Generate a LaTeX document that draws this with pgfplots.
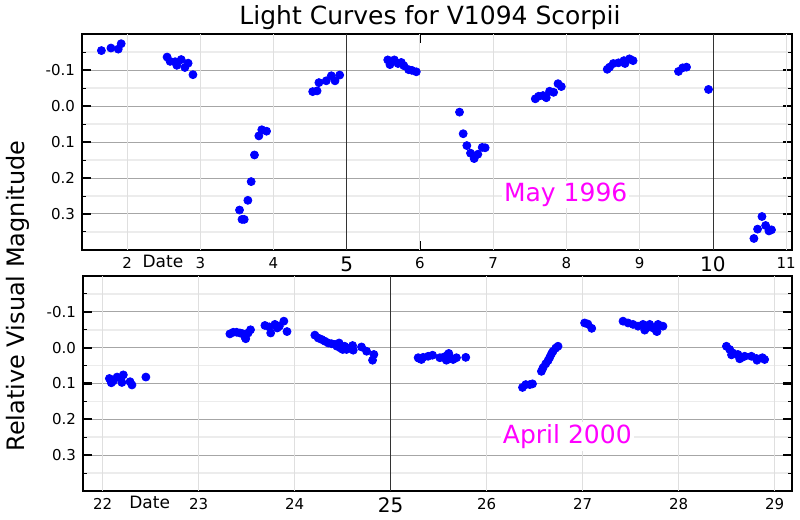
\documentclass[border=0pt]{standalone}
\usepackage{fontspec}
\setmainfont{DejaVu Sans}
\usepackage{pgfplots}
\pgfplotsset{compat=1.18}
\definecolor{ptblue}{RGB}{0,0,255}
\definecolor{anno}{RGB}{255,0,255}
\pgfplotsset{
 lcbase/.style={
  scale only axis, width=355pt, height=108pt,
  y dir=reverse, ymin=-0.2, ymax=0.4,
  ytick={-0.1,0,0.1,0.2,0.3}, yticklabels={-0.1,0.0,0.1,0.2,0.3},
  minor ytick={-0.15,-0.05,0.05,0.15,0.25,0.35},
  ymajorgrids=true, yminorgrids=true, xmajorgrids=false,
  major grid style={gray!70, line width=0.5pt},
  minor grid style={gray!15, line width=0.8pt},
  tick align=inside,
  axis line style={line width=1pt},
  major tick length=4.5pt, minor tick length=2.2pt,
  every major tick/.append style={line width=1.1pt, black},
  every minor tick/.append style={line width=0.5pt, black},
  xtick style={line width=0.4pt},
  tick label style={font=\fontsize{7.5}{8}\selectfont},
  /pgf/number format/assume math mode=true,
  extra x tick style={tick style={line width=1.6pt}, major tick length=6pt,
     tick label style={font=\fontsize{10}{11}\selectfont}},
  clip=false,
 },
 pts/.style={only marks, mark=*, mark size=2pt, ptblue, mark options={draw=ptblue, fill=ptblue}},
}
\begin{document}
\begin{tikzpicture}
\useasboundingbox (0,0) rectangle (400pt,260pt);
\node[font=\fontsize{12.5}{14}\selectfont] at (215pt,251pt) {Light Curves for V1094 Scorpii};
\node[rotate=90, font=\fontsize{12}{13}\selectfont] at (9pt,112pt) {Relative Visual Magnitude};
% ---------------- top panel -----------------
\begin{axis}[lcbase, at={(41pt,135pt)}, anchor=south west,
  xmin=1.385, xmax=11.08,
  xtick={2,3,4,6,7,8,9,11}, xticklabels={2,3,4,6,7,8,9,11},
  extra x ticks={5,10}, extra x tick labels={5,10}]
\pgfplotsinvokeforeach{2,3,4,6,7,8,9,11}{\draw[gray!25, line width=0.5pt] (axis cs:#1,-0.2) -- (axis cs:#1,0.4);}
\pgfplotsinvokeforeach{5,10}{\draw[black!80, line width=0.4pt] (axis cs:#1,-0.2) -- (axis cs:#1,0.4);}
\addplot[pts] table {
1.65 -0.154
1.78 -0.161
1.88 -0.158
1.92 -0.173
2.547 -0.136
2.588 -0.124
2.657 -0.123
2.68 -0.113
2.74 -0.129
2.79 -0.107
2.834 -0.119
2.90 -0.087
3.536 0.289
3.57 0.315
3.60 0.315
3.65 0.262
3.695 0.210
3.74 0.136
3.80 0.083
3.84 0.066
3.905 0.070
4.535 -0.040
4.595 -0.042
4.62 -0.065
4.72 -0.070
4.79 -0.084
4.84 -0.070
4.904 -0.086
5.56 -0.128
5.59 -0.115
5.65 -0.128
5.70 -0.118
5.745 -0.121
5.78 -0.112
5.845 -0.101
5.89 -0.099
5.95 -0.095
6.54 0.017
6.59 0.077
6.64 0.110
6.69 0.131
6.74 0.146
6.79 0.134
6.85 0.115
6.89 0.116
7.575 -0.020
7.62 -0.027
7.68 -0.029
7.725 -0.023
7.77 -0.041
7.825 -0.038
7.885 -0.062
7.93 -0.054
8.557 -0.102
8.59 -0.108
8.64 -0.118
8.71 -0.120
8.785 -0.126
8.80 -0.118
8.86 -0.131
8.91 -0.126
9.53 -0.096
9.587 -0.106
9.64 -0.108
9.94 -0.046
10.56 0.368
10.61 0.342
10.67 0.307
10.72 0.332
10.765 0.347
10.80 0.344
};
\node[anno, fill=white, inner sep=1pt, font=\fontsize{12.5}{14}\selectfont] at (axis cs:7.99,0.246) {May 1996};
\node[anchor=north, font=\fontsize{8.5}{9}\selectfont, inner sep=0pt] at (axis cs:2.49,0.4) [yshift=-2.5pt] {Date};
\end{axis}
% ---------------- bottom panel -----------------
\begin{axis}[lcbase, at={(41.5pt,14.5pt)}, anchor=south west, width=354.5pt, height=107.5pt,
  xmin=21.795, xmax=29.18,
  xtick={22,23,24,26,27,28,29}, xticklabels={22,23,24,26,27,28,29},
  extra x ticks={25}, extra x tick labels={25}]
\pgfplotsinvokeforeach{22,23,24,26,27,28,29}{\draw[gray!25, line width=0.5pt] (axis cs:#1,-0.2) -- (axis cs:#1,0.4);}
\draw[black!80, line width=0.4pt] (axis cs:25,-0.2) -- (axis cs:25,0.4);
\addplot[pts] table {
22.07 0.086
22.09 0.098
22.11 0.093
22.15 0.082
22.20 0.097
22.215 0.076
22.285 0.095
22.305 0.104
22.45 0.082
23.325 -0.0385
23.36 -0.043
23.395 -0.043
23.43 -0.041
23.458 -0.039
23.482 -0.030
23.49 -0.025
23.515 -0.041
23.54 -0.050
23.69 -0.062
23.735 -0.058
23.75 -0.041
23.794 -0.065
23.818 -0.055
23.84 -0.060
23.887 -0.074
23.92 -0.045
24.21 -0.035
24.245 -0.027
24.28 -0.023
24.315 -0.018
24.35 -0.013
24.385 -0.011
24.42 -0.009
24.44 -0.004
24.463 -0.013
24.477 0.001
24.50 0.005
24.52 -0.004
24.54 0.005
24.576 0.001
24.603 -0.006
24.61 0.007
24.696 -0.002
24.749 0.010
24.825 0.019
24.811 0.035
25.286 0.028
25.296 0.030
25.32 0.033
25.338 0.027
25.39 0.024
25.436 0.021
25.512 0.028
25.546 0.027
25.58 0.035
25.588 0.021
25.605 0.016
25.616 0.028
25.65 0.033
25.685 0.028
25.782 0.027
26.373 0.111
26.407 0.103
26.449 0.103
26.477 0.101
26.57 0.066
26.587 0.056
26.615 0.045
26.639 0.036
26.657 0.027
26.675 0.017
26.691 0.010
26.72 0.001
26.743 -0.004
27.02 -0.069
27.053 -0.066
27.094 -0.054
27.42 -0.074
27.472 -0.069
27.524 -0.065
27.576 -0.060
27.628 -0.065
27.646 -0.049
27.664 -0.055
27.698 -0.065
27.733 -0.055
27.768 -0.046
27.774 -0.045
27.785 -0.065
27.836 -0.060
28.497 -0.004
28.531 0.005
28.55 0.020
28.565 0.015
28.617 0.019
28.635 0.031
28.653 0.028
28.687 0.024
28.757 0.024
28.809 0.030
28.815 0.035
28.872 0.028
28.895 0.033
};
\node[anno, fill=white, inner sep=1pt, font=\fontsize{12.5}{14}\selectfont] at (axis cs:26.84,0.248) {April 2000};
\node[anchor=north, font=\fontsize{8.5}{9}\selectfont, inner sep=0pt] at (axis cs:22.49,0.4) [yshift=-2.5pt] {Date};
\end{axis}
\end{tikzpicture}
\end{document}
